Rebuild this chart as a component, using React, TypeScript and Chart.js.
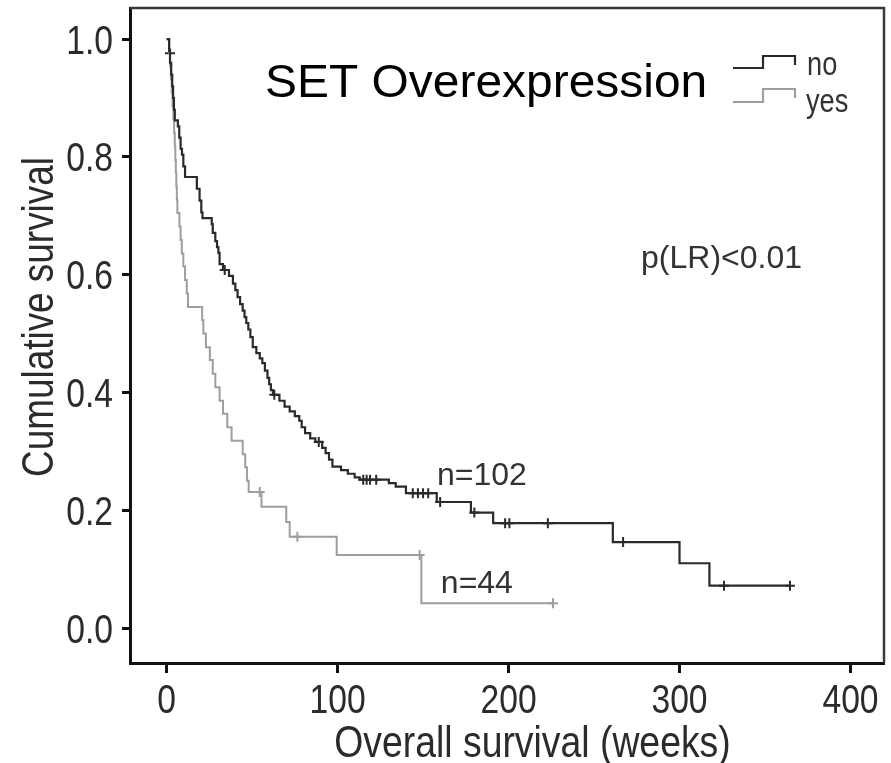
import React, { useEffect, useRef } from "react";
import { Chart, registerables } from "chart.js";

Chart.register(...registerables);

// ---- Data ----
const noTimes = [0, 1.5, 2, 2.7, 3.3, 3.8, 4.3, 4.8, 6.6, 7.4, 8.2, 9, 9.8, 10.8, 17.7, 19.3, 20.3, 21, 26.4, 27, 28.5, 29.5, 30.3, 31, 33, 36.5, 38.8, 40.2, 41.5, 43, 44.5, 45.6, 46.6, 47.8, 49, 50.4, 52.5, 54.5, 56, 57.5, 59, 60, 61, 62.2, 66, 69, 72, 75, 77.6, 79, 81, 84, 87, 91, 93, 95, 97, 102, 106, 110, 113, 130, 134, 140, 158, 178, 191, 261, 300, 317.5, 364.6];
const noSurv = [1.0, 0.98, 0.96, 0.94, 0.92, 0.9, 0.88, 0.862, 0.852, 0.833, 0.814, 0.804, 0.784, 0.766, 0.746, 0.726, 0.706, 0.696, 0.686, 0.671, 0.657, 0.647, 0.637, 0.618, 0.608, 0.598, 0.585, 0.574, 0.562, 0.55, 0.539, 0.528, 0.518, 0.507, 0.494, 0.477, 0.467, 0.458, 0.45, 0.437, 0.425, 0.414, 0.404, 0.396, 0.386, 0.376, 0.368, 0.36, 0.352, 0.341, 0.331, 0.322, 0.316, 0.306, 0.297, 0.286, 0.274, 0.268, 0.262, 0.256, 0.252, 0.246, 0.24, 0.229, 0.214, 0.196, 0.178, 0.146, 0.11, 0.072, 0.072];
const noCensorTimes = [2, 34, 63, 89, 115, 117, 119, 122.6, 144, 147, 150, 153, 160, 180, 198, 200.5, 223, 267, 326, 364.6];
const noCensorSurv = [0.976, 0.608, 0.396, 0.316, 0.252, 0.252, 0.252, 0.252, 0.229, 0.229, 0.229, 0.229, 0.214, 0.196, 0.178, 0.178, 0.178, 0.146, 0.072, 0.072];

const yesTimes = [0, 1.5, 2, 2.5, 3, 3.5, 4, 4.4, 4.8, 5.1, 5.4, 5.7, 6, 6.3, 7.5, 8.2, 8.9, 9.8, 10.8, 11.8, 12.5, 20.8, 21.5, 23, 25.3, 27, 28.5, 31, 33, 35.5, 38, 44.5, 46, 47, 48, 55.5, 70, 72, 99.5, 149, 226];
const yesSurv = [1.0, 0.977, 0.955, 0.932, 0.909, 0.886, 0.864, 0.841, 0.818, 0.795, 0.773, 0.75, 0.727, 0.705, 0.682, 0.659, 0.636, 0.614, 0.591, 0.568, 0.545, 0.523, 0.5, 0.477, 0.455, 0.432, 0.409, 0.386, 0.364, 0.341, 0.318, 0.295, 0.273, 0.25, 0.231, 0.206, 0.18, 0.155, 0.124, 0.042, 0.042];
const yesCensorTimes = [54.5, 76.5, 148, 226];
const yesCensorSurv = [0.231, 0.155, 0.124, 0.042];

const xTickValues = [0, 100, 200, 300, 400];
const yTickValues = [0, 0.2, 0.4, 0.6, 0.8, 1.0];
const xTickLabels = ["0", "100", "200", "300", "400"];
const yTickLabels = ["0.0", "0.2", "0.4", "0.6", "0.8", "1.0"];
const xLimits = [-21.4, 419.6];
const yLimits = [-0.0594, 1.053];

const groupLabels = ["no", "yes"];
const titleText = "SET Overexpression";
const pText = "p(LR)<0.01";
const nLabels = ["n=102", "n=44"];
const nLabelPos = [[158.1, 0.243], [160.4, 0.0594]];
const pPos = [277.5, 0.611];
const xTitle = "Overall survival (weeks)";
const yTitle = "Cumulative survival";

const DARK = "#2a2a2a";
const LIGHT = "#9e9e9e";
const SANS = "'Liberation Sans', Arial, sans-serif";

function pts(xs: number[], ys: number[]) {
  return xs.map((x, i) => ({ x, y: ys[i] }));
}

function drawText(ctx: CanvasRenderingContext2D, text: string, x: number, y: number, size: number, sx: number, align: string, color: string, family: string) {
  ctx.save();
  ctx.font = `${size}px ${family}`;
  ctx.fillStyle = color;
  ctx.textBaseline = "alphabetic";
  ctx.textAlign = "left";
  const w = ctx.measureText(text).width * sx;
  const left = align === "center" ? x - w / 2 : align === "right" ? x - w : x;
  ctx.translate(left, y);
  ctx.scale(sx, 1);
  ctx.fillText(text, 0, 0);
  ctx.restore();
}

const overlay = {
  id: "overlay",
  afterDraw(chart: any) {
    const { ctx, chartArea: a, scales } = chart;
    const xs = scales.x;
    const ys = scales.y;
    ctx.save();
    // top & right frame
    ctx.strokeStyle = "#3a3a3a";
    ctx.lineWidth = 2.5;
    ctx.beginPath();
    ctx.moveTo(a.left, a.top);
    ctx.lineTo(a.right, a.top);
    ctx.lineTo(a.right, a.bottom);
    ctx.stroke();

    // tick labels, placed through the scales
    xs.ticks.forEach((t: any, i: number) => {
      const px = xs.getPixelForValue(t.value);
      drawText(ctx, xTickLabels[i], px, a.bottom + 50, 41, 0.82, "center", "#2b2b2b", SANS);
    });
    ys.ticks.forEach((t: any, i: number) => {
      const py = ys.getPixelForValue(t.value);
      drawText(ctx, yTickLabels[i], a.left - 17, py + 14.5, 41, 0.82, "right", "#2b2b2b", SANS);
    });

    // legend (stepped icons)
    const icons = [
      { color: DARK, low: a.top + 60, high: a.top + 48, tail: a.top + 57 },
      { color: LIGHT, low: a.top + 94, high: a.top + 81, tail: a.top + 90 },
    ];
    const lx0 = a.left + 603, lx1 = a.left + 633, lx2 = a.left + 665;
    icons.forEach((ic) => {
      ctx.strokeStyle = ic.color;
      ctx.lineWidth = 2.2;
      ctx.beginPath();
      ctx.moveTo(lx0, ic.low);
      ctx.lineTo(lx1, ic.low);
      ctx.lineTo(lx1, ic.high);
      ctx.lineTo(lx2, ic.high);
      ctx.lineTo(lx2, ic.tail);
      ctx.stroke();
    });
    drawText(ctx, groupLabels[0], a.left + 677, a.top + 67, 34, 0.8, "left", "#333", SANS);
    drawText(ctx, groupLabels[1], a.left + 676, a.top + 104, 34, 0.8, "left", "#333", SANS);

    // main title
    drawText(ctx, titleText, a.left + 135, a.top + 89, 47, 1.02, "left", "#000", SANS);

    // p value and n labels (anchored in data space)
    drawText(ctx, pText, xs.getPixelForValue(pPos[0]), ys.getPixelForValue(pPos[1]), 32, 1.0, "left", "#333", SANS);
    nLabels.forEach((t, i) => {
      drawText(ctx, t, xs.getPixelForValue(nLabelPos[i][0]), ys.getPixelForValue(nLabelPos[i][1]), 32, 1.0, "left", "#333", SANS);
    });

    // axis titles
    drawText(ctx, xTitle, a.left + 402.5, a.bottom + 94, 45, 0.83, "center", "#2b2b2b", SANS);
    ctx.save();
    ctx.translate(a.left - 77, a.top + 309);
    ctx.rotate(-Math.PI / 2);
    drawText(ctx, yTitle, 0, 0, 45, 0.82, "center", "#2b2b2b", SANS);
    ctx.restore();
    ctx.restore();
  },
};

export default function App() {
  const ref = useRef<HTMLCanvasElement | null>(null);
  useEffect(() => {
    document.body.style.margin = "0";
    const canvas = ref.current;
    if (!canvas) return;
    const chart = new Chart(canvas, {
      type: "line",
      data: {
        datasets: [
          {
            label: groupLabels[0],
            data: pts(noTimes, noSurv),
            borderColor: DARK,
            borderWidth: 2.2,
            stepped: "before",
            pointRadius: 0,
            fill: false,
          },
          {
            label: groupLabels[1],
            data: pts(yesTimes, yesSurv),
            borderColor: LIGHT,
            borderWidth: 2,
            stepped: "before",
            pointRadius: 0,
            fill: false,
          },
          {
            label: "no censored",
            data: pts(noCensorTimes, noCensorSurv),
            showLine: false,
            pointStyle: "cross",
            pointRadius: 5,
            pointBorderWidth: 2,
            borderColor: DARK,
            pointBorderColor: DARK,
          },
          {
            label: "yes censored",
            data: pts(yesCensorTimes, yesCensorSurv),
            showLine: false,
            pointStyle: "cross",
            pointRadius: 5,
            pointBorderWidth: 2,
            borderColor: LIGHT,
            pointBorderColor: LIGHT,
          },
        ],
      },
      options: {
        animation: false,
        responsive: true,
        maintainAspectRatio: false,
        layout: { padding: { left: 0, right: 4, top: 8, bottom: 0 } },
        plugins: { legend: { display: false }, tooltip: { enabled: false }, title: { display: false } },
        scales: {
          x: {
            type: "linear",
            min: xLimits[0],
            max: xLimits[1],
            afterBuildTicks: (s: any) => {
              s.ticks = xTickValues.map((v) => ({ value: v }));
            },
            afterFit: (s: any) => {
              s.height = 100;
              s.paddingLeft = 0;
              s.paddingRight = 0;
            },
            border: { display: true, color: "#111", width: 3 },
            grid: { drawOnChartArea: false, drawTicks: true, tickLength: 10, tickWidth: 3, tickColor: "#111" },
            ticks: { display: false },
          },
          y: {
            type: "linear",
            min: yLimits[0],
            max: yLimits[1],
            afterBuildTicks: (s: any) => {
              s.ticks = yTickValues.map((v) => ({ value: v }));
            },
            afterFit: (s: any) => {
              s.width = 130;
              s.paddingTop = 0;
              s.paddingBottom = 0;
            },
            border: { display: true, color: "#111", width: 3 },
            grid: { drawOnChartArea: false, drawTicks: true, tickLength: 8, tickWidth: 3, tickColor: "#111" },
            ticks: { display: false },
          },
        },
      },
      plugins: [overlay],
    } as any);
    return () => chart.destroy();
  }, []);
  return (
    <div style={{ position: "absolute", left: 0, top: 0, width: 891, height: 763, background: "#fff" }}>
      <canvas ref={ref} />
    </div>
  );
}
